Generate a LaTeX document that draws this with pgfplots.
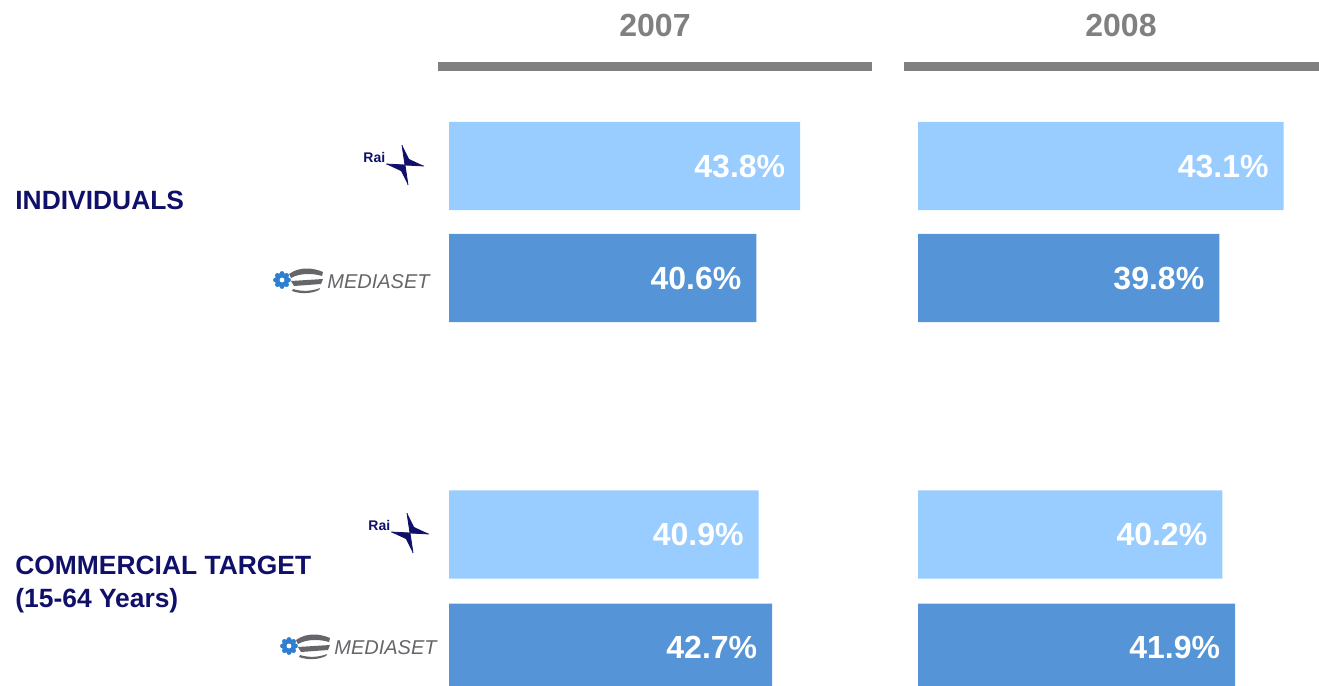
\documentclass[border=0pt]{standalone}
\usepackage{fontspec}
\setmainfont{Liberation Sans}
\usepackage{pgfplots}
\pgfplotsset{compat=1.18}
\definecolor{railight}{HTML}{99CCFF}
\definecolor{msdark}{HTML}{5594D6}
\definecolor{navy}{HTML}{10106A}
\definecolor{hdrgray}{HTML}{808080}
\definecolor{logogray}{HTML}{66666A}
\definecolor{gearblue}{HTML}{2F7FD0}

% logos, drawn in pixel coordinates (x=0.5pt, y=-0.5pt)
\newcommand{\railogo}{%
  \node[anchor=base west,text=navy,font=\fontsize{7pt}{8pt}\selectfont\bfseries,inner sep=0] at (363,162) {Rai};
  \fill[navy] (405,165) -- (402,145) -- (409,159) -- (424,166) -- cycle;
  \fill[navy] (405,165) -- (408,185) -- (401,171) -- (386,164) -- cycle;
  \draw[navy,line width=0.4pt] (386,164) -- (424,166);
  \draw[navy,line width=0.4pt] (402,145) -- (408,185);
}
\newcommand{\mslogo}{%
  \fill[gearblue] (282,280) circle (7);
  \foreach \a in {0,45,...,315} \fill[gearblue] (282,280) ++(\a:6.5) circle (2.4);
  \fill[white] (282,280) circle (2.4);
  \fill[logogray] (289,274) .. controls (300,266) and (314,268) .. (323,272) -- (322,276) .. controls (312,273) and (300,273) .. (291,278) -- cycle;
  \fill[logogray] (291,281) -- (323,279) -- (321,284) -- (294,286) -- cycle;
  \fill[logogray] (293,289) .. controls (302,292) and (313,291) .. (320,288) -- (319,290) .. controls (311,294) and (300,294) .. (292,291) -- cycle;
  \node[anchor=base west,text=logogray,font=\fontsize{10pt}{12pt}\selectfont\itshape,inner sep=0] at (327,288) {MEDIASET};
}

\begin{document}
\begin{tikzpicture}
\useasboundingbox (0,0) rectangle (659.5pt,-343pt);
\clip (0,0) rectangle (659.5pt,-343pt);

\begin{scope}[x=0.5pt,y=-0.5pt]
  % year headers
  \node[text=hdrgray,font=\fontsize{16pt}{19pt}\selectfont\bfseries] at (655,25) {2007};
  \node[text=hdrgray,font=\fontsize{16pt}{19pt}\selectfont\bfseries] at (1121,25) {2008};
  \fill[hdrgray] (438,62) rectangle (872,71);
  \fill[hdrgray] (904,62) rectangle (1319,71);
  % row labels
  \node[anchor=base west,text=navy,font=\fontsize{13.2pt}{16pt}\selectfont\bfseries,inner sep=0] at (15,209) {INDIVIDUALS};
  \node[anchor=base west,text=navy,font=\fontsize{13.2pt}{16pt}\selectfont\bfseries,inner sep=0] at (15,574) {COMMERCIAL TARGET};
  \node[anchor=base west,text=navy,font=\fontsize{13.2pt}{16pt}\selectfont\bfseries,inner sep=0] at (15,607) {(15-64 Years)};
  % logos
  \railogo
  \mslogo
  \begin{scope}[shift={(5,368)}] \railogo \end{scope}
  \begin{scope}[shift={(7,366)}] \mslogo \end{scope}
\end{scope}

\pgfplotsset{sharebars/.style={
  scale only axis, hide axis, clip=false,
  x=3.785pt, y=56pt, y dir=reverse,
  xmin=0, xmax=60, ymin=-0.5, ymax=4.8,
  xbar, bar width=0.786, bar shift=0pt,
  nodes near coords, point meta=explicit symbolic,
  every node near coord/.append style={anchor=east, xshift=-4pt, text=white,
    font=\fontsize{16pt}{18pt}\selectfont\bfseries},
}}

% 2007
\begin{axis}[sharebars, at={(224.5pt,-55pt)}, anchor=north west]
\addplot[draw=none, fill=railight] coordinates {(46.4,0) [43.8\%] (40.9,3.29) [40.9\%]};
\addplot[draw=none, fill=msdark] coordinates {(40.6,1) [40.6\%] (42.7,4.30) [42.7\%]};
\end{axis}

% 2008
\begin{axis}[sharebars, at={(459pt,-55pt)}, anchor=north west]
\addplot[draw=none, fill=railight] coordinates {(48.3,0) [43.1\%] (40.2,3.29) [40.2\%]};
\addplot[draw=none, fill=msdark] coordinates {(39.8,1) [39.8\%] (41.9,4.30) [41.9\%]};
\end{axis}
\end{tikzpicture}
\end{document}
